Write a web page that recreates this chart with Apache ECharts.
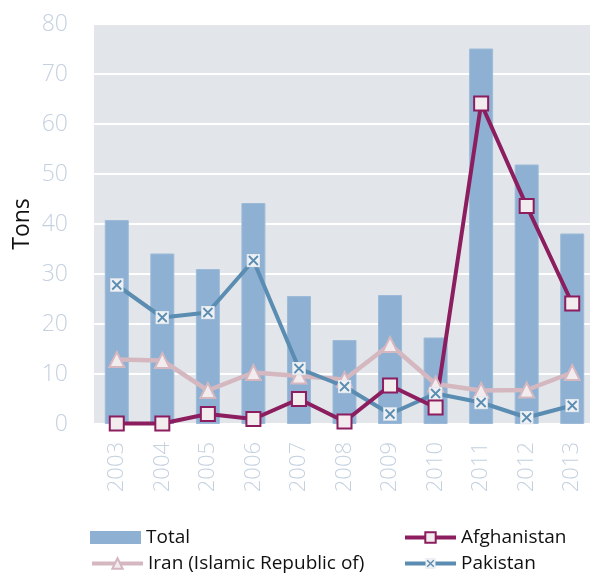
<!DOCTYPE html>
<html><head><meta charset="utf-8">
<script src="https://cdn.jsdelivr.net/npm/echarts@6/dist/echarts.min.js"></script>
<style>html,body{margin:0;padding:0;background:#fff;overflow:hidden}#c{width:600px;height:574px}</style>
</head><body><div id="c"></div>
<script>
const years = ['2003','2004','2005','2006','2007','2008','2009','2010','2011','2012','2013'];
const total = [40.8, 34.1, 31.0, 44.2, 25.6, 16.8, 25.8, 17.3, 75.1, 51.9, 38.1];
const afghanistan = [0.1, 0.1, 2.0, 1.0, 5.0, 0.5, 7.7, 3.3, 64.1, 43.6, 24.1];
const iran = [12.9, 12.7, 6.7, 10.3, 9.6, 8.9, 15.9, 8.0, 6.7, 6.8, 10.3];
const pakistan = [27.8, 21.3, 22.3, 32.7, 11.1, 7.5, 2.0, 6.1, 4.3, 1.3, 3.7];
const yTicks = [0, 80, 10];

const FONT = "'Open Sans', sans-serif";
const xSvg = 'data:image/svg+xml;utf8,' + encodeURIComponent(
  '<svg xmlns="http://www.w3.org/2000/svg" width="28" height="28" viewBox="0 0 28 28">' +
  '<rect x="1" y="1" width="26" height="26" fill="#eef0f3" stroke="#d3dee9" stroke-width="1.5"/>' +
  '<path d="M5 5 L23 23 M23 5 L5 23" stroke="#5b8db2" stroke-width="3.6" stroke-linecap="butt"/></svg>');

const chart = echarts.init(document.getElementById('c'), null, {renderer: 'canvas'});
const legendBase = {orient: 'horizontal', itemWidth: 51, itemHeight: 13, itemGap: 6,
  textStyle: {fontFamily: FONT, fontSize: 19, color: '#111', padding: [0,0,0,0]}, padding: 0};
chart.setOption({
  animation: false,
  grid: {left: 94, top: 24, width: 501, height: 400, show: true, backgroundColor: '#e2e6ea', borderWidth: 0},
  xAxis: {type: 'category', data: years, boundaryGap: true,
    axisLine: {show: false}, axisTick: {show: false},
    axisLabel: {rotate: 90, margin: 18, color: '#c5d1df', fontFamily: FONT, fontSize: 22, fontWeight: 300}},
  yAxis: {type: 'value', min: yTicks[0], max: yTicks[1], interval: yTicks[2],
    name: 'Tons', nameLocation: 'middle', nameGap: 60, nameRotate: 90, nameMoveOverlap: false,
    nameTextStyle: {fontFamily: FONT, fontSize: 23, color: '#111'},
    axisLine: {show: false}, axisTick: {show: false},
    axisLabel: {margin: 26, color: '#c5d1df', fontFamily: FONT, fontSize: 23, fontWeight: 300},
    splitLine: {lineStyle: {color: '#ffffff', width: 2}}},
  legend: [
    Object.assign({}, legendBase, {left: 90, top: 528, data: [{name: 'Total', icon: 'rect'}], itemStyle: {borderWidth: 0}}),
    Object.assign({}, legendBase, {left: 403, top: 528, data: ['Afghanistan'], lineStyle: {width: 4}}),
    Object.assign({}, legendBase, {left: 90, top: 554, data: ['Iran (Islamic Republic of)'], lineStyle: {width: 4}}),
    Object.assign({}, legendBase, {left: 403, top: 554, data: ['Pakistan'], lineStyle: {width: 4}})
  ],
  series: [
    {name: 'Total', type: 'bar', data: total, barWidth: 24,
      itemStyle: {color: '#8db0d3', borderColor: '#9dbbd8', borderWidth: 1}},
    {name: 'Iran (Islamic Republic of)', type: 'line', data: iran,
      lineStyle: {color: '#d4b7bf', width: 4.5}, symbol: 'triangle', symbolSize: 15,
      itemStyle: {color: '#f2ecee', borderColor: '#d4b7bf', borderWidth: 2}},
    {name: 'Pakistan', type: 'line', data: pakistan,
      lineStyle: {color: '#5b8db2', width: 4}, symbol: 'image://' + xSvg, symbolSize: 14,
      itemStyle: {color: '#5b8db2'}},
    {name: 'Afghanistan', type: 'line', data: afghanistan,
      lineStyle: {color: '#8c1d5f', width: 4}, symbol: 'rect', symbolSize: 14,
      itemStyle: {color: '#f2ecee', borderColor: '#8c1d5f', borderWidth: 2}}
  ]
});
</script></body></html>
